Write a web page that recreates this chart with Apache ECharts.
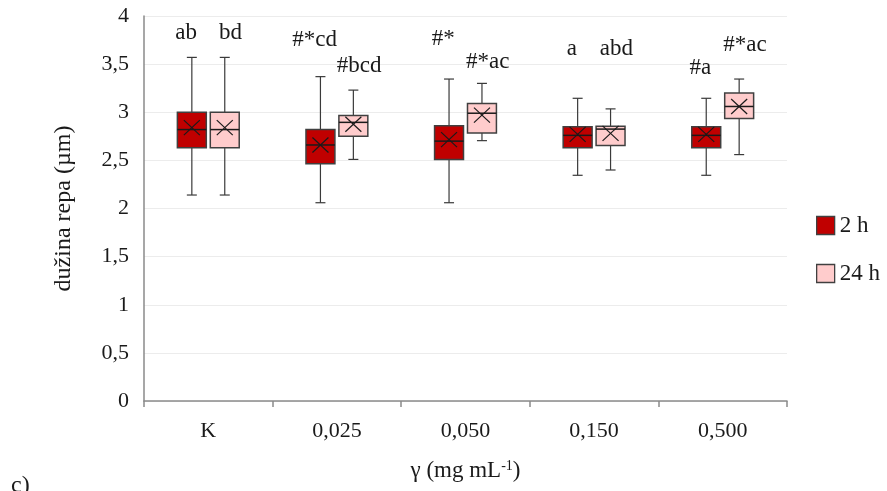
<!DOCTYPE html>
<html>
<head>
<meta charset="utf-8">
<script src="https://cdn.jsdelivr.net/npm/echarts@6/dist/echarts.min.js"></script>
<style>html,body{margin:0;padding:0;background:#fff;}#chart{width:887px;height:491px;}</style>
</head>
<body>
<div id="chart"></div>
<script>
// Categories (x axis)
var categories = ['K', '0,025', '0,050', '0,150', '0,500'];
var yTicks = ['0', '0,5', '1', '1,5', '2', '2,5', '3', '3,5', '4'];

// 2 h series: min, Q1, median, Q3, max, mean
var min2h    = [2.14, 2.06, 2.06, 2.345, 2.345];
var q1_2h    = [2.63, 2.465, 2.51, 2.63, 2.63];
var med2h    = [2.82, 2.66, 2.70, 2.76, 2.76];
var q3_2h    = [3.00, 2.82, 2.86, 2.85, 2.85];
var max2h    = [3.57, 3.37, 3.345, 3.145, 3.145];
var mean2h   = [2.84, 2.66, 2.715, 2.77, 2.77];
var labels2h = ['ab', '#*cd', '#*', 'a', '#a'];
var labelY2h = [3.82, 3.75, 3.76, 3.66, 3.46];

// 24 h series
var min24h    = [2.14, 2.51, 2.705, 2.40, 2.56];
var q1_24h    = [2.63, 2.75, 2.785, 2.655, 2.935];
var med24h    = [2.82, 2.895, 2.99, 2.825, 3.06];
var q3_24h    = [3.00, 2.965, 3.09, 2.855, 3.20];
var max24h    = [3.57, 3.23, 3.30, 3.035, 3.345];
var mean24h   = [2.84, 2.875, 2.97, 2.78, 3.06];
var labels24h = ['bd', '#bcd', '#*ac', 'abd', '#*ac'];
var labelY24h = [3.82, 3.48, 3.52, 3.66, 3.70];

var FONT = '"Liberation Serif", "Times New Roman", serif';

function buildData(mn, q1, md, q3, mx, mean, labY) {
  return categories.map(function (c, i) {
    return [i, mn[i], q1[i], md[i], q3[i], mx[i], mean[i], labY[i]];
  });
}

function makeRender(sign, fill, labels) {
  return function (params, api) {
    var cat = api.value(0);
    var band = api.size([1, 0])[0];
    var off = sign * band * 0.128;
    var bw = band * 0.225;
    var cx = api.coord([cat, 0])[0] + off;
    var lx = cx + sign * band * 0.045;
    var yMin = api.coord([cat, api.value(1)])[1];
    var yQ1 = api.coord([cat, api.value(2)])[1];
    var yMed = api.coord([cat, api.value(3)])[1];
    var yQ3 = api.coord([cat, api.value(4)])[1];
    var yMax = api.coord([cat, api.value(5)])[1];
    var yMean = api.coord([cat, api.value(6)])[1];
    var yLab = api.coord([cat, api.value(7)])[1];
    var cap = 5, xs = 8, ys = 7.5;
    var lineStyle = { stroke: '#3a3a3a', lineWidth: 1.2 };
    return {
      type: 'group',
      children: [
        { type: 'line', shape: { x1: cx, y1: yMax, x2: cx, y2: yQ3 }, style: lineStyle },
        { type: 'line', shape: { x1: cx, y1: yQ1, x2: cx, y2: yMin }, style: lineStyle },
        { type: 'line', shape: { x1: cx - cap, y1: yMax, x2: cx + cap, y2: yMax }, style: lineStyle },
        { type: 'line', shape: { x1: cx - cap, y1: yMin, x2: cx + cap, y2: yMin }, style: lineStyle },
        { type: 'rect', shape: { x: cx - bw / 2, y: yQ3, width: bw, height: yQ1 - yQ3 },
          style: { fill: fill, stroke: '#404040', lineWidth: 1.5 } },
        { type: 'line', shape: { x1: cx - bw / 2, y1: yMed, x2: cx + bw / 2, y2: yMed },
          style: { stroke: '#1a1a1a', lineWidth: 1.5 } },
        { type: 'line', shape: { x1: cx - xs, y1: yMean - ys, x2: cx + xs, y2: yMean + ys },
          style: { stroke: '#1a1a1a', lineWidth: 1.2 } },
        { type: 'line', shape: { x1: cx - xs, y1: yMean + ys, x2: cx + xs, y2: yMean - ys },
          style: { stroke: '#1a1a1a', lineWidth: 1.2 } },
        { type: 'text', style: { text: labels[params.dataIndex], x: lx, y: yLab,
          align: 'center', verticalAlign: 'middle', fontSize: 23, fontFamily: FONT, fill: '#1a1a1a' } }
      ]
    };
  };
}

var chart = echarts.init(document.getElementById('chart'), null, { renderer: 'canvas' });
chart.setOption({
  backgroundColor: '#ffffff',
  animation: false,
  grid: { left: 144, right: 100, top: 16, bottom: 90, containLabel: false },
  legend: {
    orient: 'vertical', left: 811, top: 209,
    itemWidth: 18, itemHeight: 18, itemGap: 25,
    icon: 'rect',
    itemStyle: { borderColor: '#404040', borderWidth: 1.3 },
    textStyle: { fontSize: 23, fontFamily: FONT, color: '#1a1a1a', lineHeight: 18 },
    data: ['2 h', '24 h']
  },
  xAxis: {
    type: 'category', data: categories, boundaryGap: true,
    axisLine: { lineStyle: { color: '#8a8a8a', width: 1.5 } },
    axisTick: { show: true, length: 6, lineStyle: { color: '#8a8a8a', width: 1.5 } },
    axisLabel: { fontSize: 22, fontFamily: FONT, color: '#1a1a1a', margin: 19 },
    name: 'γ (mg mL{sup|-1})', nameLocation: 'middle', nameGap: 58,
    nameTextStyle: { fontSize: 23, fontFamily: FONT, color: '#1a1a1a',
      rich: { sup: { fontSize: 14, fontFamily: FONT, color: '#1a1a1a', padding: [0, 0, 10, 0] } } }
  },
  yAxis: {
    type: 'value', min: 0, max: 4, interval: 0.5,
    axisLine: { show: true, lineStyle: { color: '#8a8a8a', width: 1.5 } },
    axisTick: { show: false },
    splitLine: { show: true, lineStyle: { color: '#ececec', width: 1.2 } },
    axisLabel: { fontSize: 22, fontFamily: FONT, color: '#1a1a1a', margin: 15,
      formatter: function (v) { return yTicks[Math.round(v * 2)]; } },
    name: 'dužina repa (µm)', nameLocation: 'middle', nameGap: 68, nameRotate: 90,
    nameTextStyle: { fontSize: 24, fontFamily: FONT, color: '#1a1a1a' }
  },
  graphic: [
    { type: 'text', left: 11, top: 474, style: { text: 'c)', fontSize: 24, fontFamily: FONT, fill: '#1a1a1a' } }
  ],
  series: [
    {
      name: '2 h', type: 'custom',
      itemStyle: { color: '#c00000', borderColor: '#404040' },
      encode: { x: 0, y: [1, 2, 3, 4, 5] },
      renderItem: makeRender(-1, '#c00000', labels2h),
      data: buildData(min2h, q1_2h, med2h, q3_2h, max2h, mean2h, labelY2h)
    },
    {
      name: '24 h', type: 'custom',
      itemStyle: { color: '#ffcccc', borderColor: '#404040' },
      encode: { x: 0, y: [1, 2, 3, 4, 5] },
      renderItem: makeRender(1, '#ffcccc', labels24h),
      data: buildData(min24h, q1_24h, med24h, q3_24h, max24h, mean24h, labelY24h)
    }
  ]
});
</script>
</body>
</html>
